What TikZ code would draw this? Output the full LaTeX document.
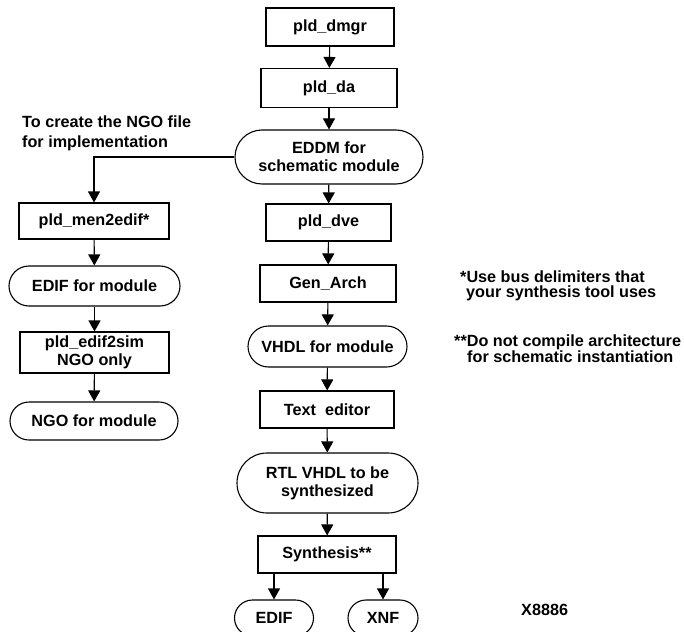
\documentclass[tikz,border=0pt]{standalone}
\usepackage{fontspec}
\setmainfont{Liberation Sans}
\usetikzlibrary{arrows.meta}
\tikzset{
  every node/.style={font=\fontsize{16.2}{18}\selectfont\bfseries, inner sep=0pt},
  stepbox/.style={draw, line width=1.1pt, align=center},
  roundbox/.style={draw, line width=1.1pt, align=center},
  flow/.style={line width=1.1pt, -{Triangle[width=12pt,length=11pt]}},
  note/.style={anchor=base west}
}
\begin{document}
\begin{tikzpicture}[x=1pt,y=-1pt]
\useasboundingbox (0,0) rectangle (684,631);
% main column
\node[stepbox, minimum width=128pt, minimum height=38pt] (dmgr) at (330,27) {pld\_dmgr};
\node[stepbox, minimum width=136pt, minimum height=39pt] (da) at (329,88) {pld\_da};
\node[roundbox, minimum width=188pt, minimum height=54pt, rounded corners=27pt] (eddm) at (329,157) {EDDM for\\schematic module};
\node[stepbox, minimum width=125pt, minimum height=37pt] (dve) at (328.5,222.5) {pld\_dve};
\node[stepbox, minimum width=136pt, minimum height=37pt] (gen) at (328,283.5) {Gen\_Arch};
\node[roundbox, minimum width=159pt, minimum height=41pt, rounded corners=20.5pt] (vhdl) at (327.5,346.5) {VHDL for module};
\node[stepbox, minimum width=134pt, minimum height=37pt] (ted) at (327,409.5) {Text~~editor};
\node[roundbox, minimum width=181pt, minimum height=60pt, rounded corners=30pt] (rtl) at (327.5,483) {RTL VHDL to be\\synthesized};
\node[stepbox, minimum width=138pt, minimum height=37pt] (syn) at (327,554.5) {Synthesis**};
\node[roundbox, minimum width=79pt, minimum height=36pt, rounded corners=18pt] (edif) at (274,618) {EDIF};
\node[roundbox, minimum width=70pt, minimum height=36pt, rounded corners=18pt] (xnf) at (383,618) {XNF};
% side column
\node[stepbox, minimum width=150pt, minimum height=36pt] (men) at (94,221) {pld\_men2edif*};
\node[roundbox, minimum width=171pt, minimum height=40pt, rounded corners=20pt] (edifm) at (94.5,286) {EDIF for module};
\node[stepbox, minimum width=149pt, minimum height=41pt] (e2s) at (94.5,352.5) {pld\_edif2sim\\NGO only};
\node[roundbox, minimum width=168pt, minimum height=38pt, rounded corners=19pt] (ngo) at (94,421) {NGO for module};
% connectors
\draw[flow] (dmgr) -- (da);
\draw[flow] (da) -- (eddm);
\draw[flow] (eddm) -- (dve);
\draw[flow] (dve) -- (gen);
\draw[flow] (gen) -- (vhdl);
\draw[flow] (vhdl) -- (ted);
\draw[flow] (ted) -- (rtl);
\draw[flow] (rtl) -- (syn);
\draw[flow] (syn.south -| edif.north) -- (edif.north);
\draw[flow] (syn.south -| xnf.north) -- (xnf.north);
\draw[flow] (eddm.west) -| (men.north);
\draw[flow] (men) -- (edifm);
\draw[flow] (edifm) -- (e2s);
\draw[flow] (e2s) -- (ngo);
% notes
\node[note] (n1) at (22,128) {To create the NGO file};
\node[note] (n2) at (22,148) {for implementation};
\node[note] (f1) at (460,282) {*Use bus delimiters that};
\node[note] (f2) at (466,297) {your synthesis tool uses};
\node[note] (f3) at (454,346) {**Do not compile architecture};
\node[note] (f4) at (467,362) {for schematic instantiation};
\node[note] (fig) at (521,615) {X8886};
\end{tikzpicture}
\end{document}
